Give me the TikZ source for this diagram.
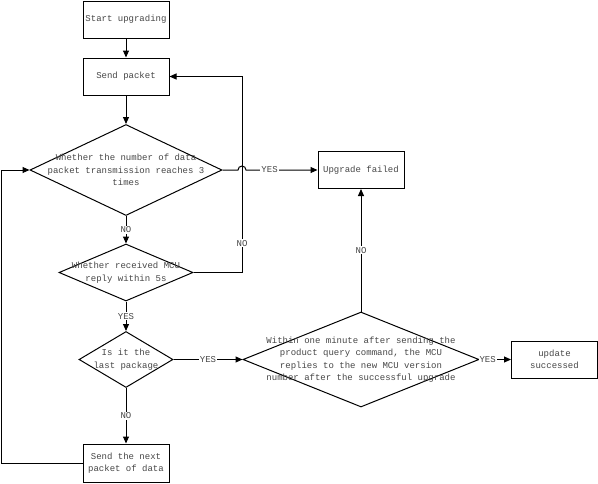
\documentclass[tikz,border=0pt]{standalone}
\usepackage{fontspec}
\setmainfont{Liberation Mono}
\usepackage{xcolor}
\usetikzlibrary{shapes.geometric,arrows.meta}
\definecolor{txtgray}{RGB}{70,70,70}

\begin{document}
\begin{tikzpicture}[x=1pt,y=-1pt,
  font=\fontsize{9}{12.5}\selectfont,
  box/.style={draw,line width=1pt,minimum width=86pt,minimum height=37pt,
    inner sep=1pt,align=center,text=txtgray},
  dec/.style={draw,diamond,line width=1pt,inner sep=0pt},
  link/.style={line width=1pt,-{Triangle[length=7pt,width=6pt]}},
  tag/.style={fill=white,inner sep=1pt,text=txtgray}]
  \useasboundingbox (0,0) rectangle (598,483);
  % boxes
  \node[box] (start) at (126,19.5) {Start upgrading};
  \node[box] (send)  at (126,76.5) {Send packet};
  \node[box] (fail)  at (361,170)  {Upgrade failed};
  \node[box] (ok)    at (554.5,359.5) {update\\successed};
  \node[box,minimum height=38pt] (next) at (126,463) {Send the next\\packet of data};
  % decisions
  \node[dec,minimum width=192pt,minimum height=91pt,
    label={[text=txtgray,align=center]center:{Whether the number of data\\packet transmission reaches 3\\times}}]
    (q1) at (126,170) {};
  \node[dec,minimum width=134pt,minimum height=57pt,
    label={[text=txtgray,align=center]center:{Whether received MCU\\reply within 5s}}]
    (q2) at (126,272.5) {};
  \node[dec,minimum width=94pt,minimum height=56pt,
    label={[text=txtgray,align=center]center:{Is it the\\last package}}]
    (q3) at (126,359.5) {};
  \node[dec,minimum width=236pt,minimum height=95pt,
    label={[text=txtgray,align=center]center:{Within one minute after sending the\\product query command, the MCU\\replies to the new MCU version\\number after the successful upgrade}}]
    (q4) at (361,359.5) {};
  \coordinate (loopR) at (242,76.5);
  \coordinate (loopL) at (1,170);
  % connectors
  \draw[link] (start) -- (send);
  \draw[link] (send) -- (q1);
  \draw[link] (q1.east) -- (238,170) arc[start angle=180,end angle=360,radius=4]
    -- node[tag,pos=0.33]{YES} (fail.west);
  \draw[link] (q1.south) -- node[tag]{NO} (q2.north);
  \draw[link] (q2.east) -| node[tag,pos=0.575]{NO} (loopR) -- (send.east);
  \draw[link] (q2.south) -- node[tag]{YES} (q3.north);
  \draw[link] (q3.east) -- node[tag]{YES} (q4.west);
  \draw[link] (q3.south) -- node[tag]{NO} (next.north);
  \draw[link] (q4.north) -- node[tag]{NO} (fail.south);
  \draw[link] (q4.east) -- node[tag,pos=0.26]{YES} (ok.west);
  \draw[link] (next.west) -| (loopL) -- (q1.west);
\end{tikzpicture}
\end{document}
